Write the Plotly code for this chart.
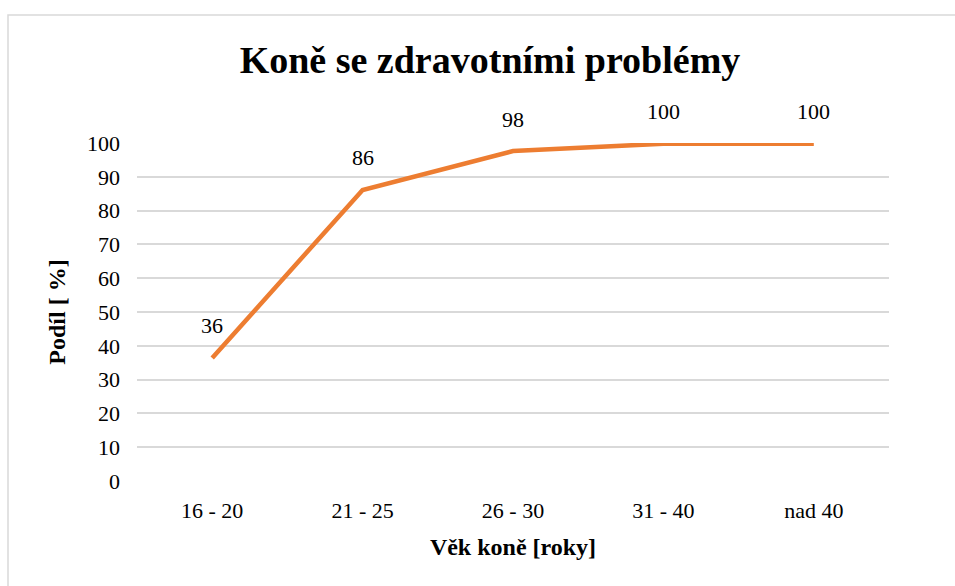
import plotly.graph_objects as go

categories = ["16 - 20", "21 - 25", "26 - 30", "31 - 40", "nad 40"]
values = [36.4, 86.1, 97.6, 99.8, 99.8]
y_ticks = list(range(0, 101, 10))

W, H = 955, 586
L, R, T, B = 137, 66, 143, 105
pw, ph = W - L - R, H - T - B
SERIF = "Liberation Serif, Times New Roman, Tinos, DejaVu Serif, serif"

fig = go.Figure()
fig.add_trace(go.Scatter(
    x=categories, y=values, mode="lines",
    line=dict(color="#ED7D31", width=4.5),
    hoverinfo="skip",
))
for c, v in zip(categories, values):
    fig.add_annotation(x=c, y=v, text=f"{v:.0f}", showarrow=False, yshift=32,
                       font=dict(family=SERIF, size=22, color="#000000"))

fig.update_layout(
    width=W, height=H,
    margin=dict(l=L, r=R, t=T, b=B, autoexpand=False),
    paper_bgcolor="white", plot_bgcolor="white",
    showlegend=False,
    title=dict(text="<b>Koně se zdravotními problémy</b>", x=490 / W, xanchor="center",
               y=1 - 60 / H, yanchor="middle", automargin=False,
               font=dict(family=SERIF, size=38, color="#000000")),
    font=dict(family=SERIF, color="#000000"),
    xaxis=dict(type="category", range=[-0.5, 4.5], showgrid=False, showline=False, zeroline=False,
               ticks="", tickfont=dict(family=SERIF, size=22, color="#000000"),
               ticklabelstandoff=14, automargin=False,
               title=dict(text="<b>Věk koně [roky]</b>",
                          font=dict(family=SERIF, size=24, color="#000000"), standoff=16)),
    yaxis=dict(range=[0, 100], tickvals=y_ticks, showgrid=True, gridcolor="#D9D9D9",
               gridwidth=1.5, zeroline=False, showline=False, ticks="", automargin=False,
               tickfont=dict(family=SERIF, size=22, color="#000000"), ticklabelstandoff=16,
               title=dict(text="<b>Podíl [ %]</b>",
                          font=dict(family=SERIF, size=24, color="#000000"), standoff=14)),
    shapes=[dict(type="rect", xref="paper", yref="paper",
                 x0=(8 - L) / pw, x1=(W + 20 - L) / pw,
                 y0=-(B + 20) / ph, y1=1 + (T - 15) / ph,
                 line=dict(color="#D9D9D9", width=1.5), fillcolor="rgba(0,0,0,0)", layer="below")],
)

fig.write_html("out.html", config={"displayModeBar": False},
               post_script="document.body.style.margin='0';")
